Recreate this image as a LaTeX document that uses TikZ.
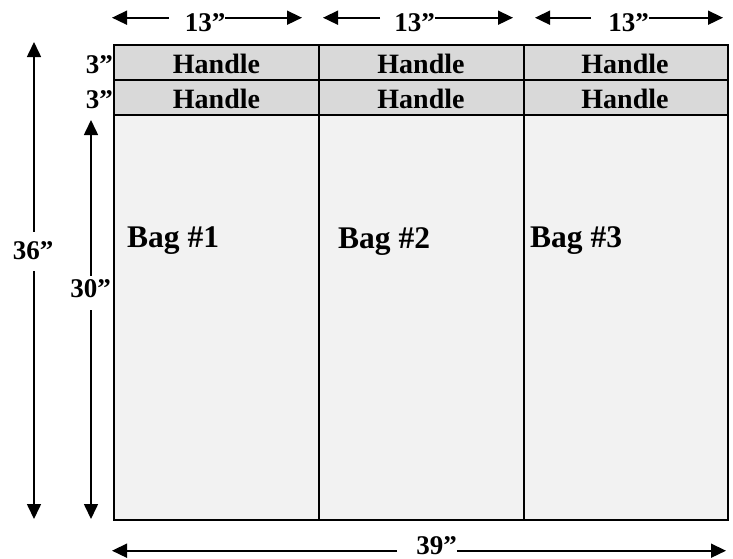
\documentclass[tikz,border=0pt]{standalone}
\usepackage{fontspec}
\setmainfont{Liberation Serif}
\usetikzlibrary{arrows.meta}

\definecolor{handlegray}{HTML}{D9D9D9}
\definecolor{baggray}{HTML}{F2F2F2}
\tikzset{
  dim/.style={line width=1.6pt, -{Triangle[length=15pt,width=14pt]}},
  dimlabel/.style={font=\fontsize{27}{27}\selectfont\bfseries, inner sep=0pt},
  handlelabel/.style={font=\fontsize{28}{28}\selectfont\bfseries, inner sep=0pt},
  baglabel/.style={font=\fontsize{31.5}{31.5}\selectfont\bfseries, inner sep=0pt, anchor=base west}
}

\begin{document}
\begin{tikzpicture}[x=1pt,y=-1pt]
\useasboundingbox (0,0) rectangle (733,558);
% panels
\fill[handlegray] (114,45) rectangle (728,115);
\fill[baggray] (114,115) rectangle (728,520);
\draw[line width=2pt] (114,80) -- (728,80) (114,115) -- (728,115)
      (319,45) -- (319,520) (524,45) -- (524,520);
\draw[line width=2.6pt] (114,45) rectangle (728,520);
% handles
\node[handlelabel] (h11) at (216.5,63.5) {Handle};
\node[handlelabel] (h12) at (421,63.5) {Handle};
\node[handlelabel] (h13) at (625,63.5) {Handle};
\node[handlelabel] (h21) at (216.5,98.5) {Handle};
\node[handlelabel] (h22) at (421,98.5) {Handle};
\node[handlelabel] (h23) at (625,98.5) {Handle};
% bags
\node[baglabel] (bag1) at (127,247) {Bag \#1};
\node[baglabel] (bag2) at (338,248) {Bag \#2};
\node[baglabel] (bag3) at (530,247) {Bag \#3};
% widths on top
\coordinate (tl1) at (112,17.7); \coordinate (tr1) at (302,17.7);
\coordinate (tl2) at (323,17.7); \coordinate (tr2) at (513,17.7);
\coordinate (tl3) at (535,17.7); \coordinate (tr3) at (723,17.7);
\node[dimlabel] (w1) at (205,22.7) {13”};
\node[dimlabel] (w2) at (414.5,22.7) {13”};
\node[dimlabel] (w3) at (628.5,22.7) {13”};
\draw[dim, shorten <=16pt] (w1.west |- tl1) -- (tl1);
\draw[dim] (w1.east |- tr1) -- (tr1);
\draw[dim, shorten <=14pt] (w2.west |- tl2) -- (tl2);
\draw[dim] (w2.east |- tr2) -- (tr2);
\draw[dim, shorten <=17pt] (w3.west |- tl3) -- (tl3);
\draw[dim] (w3.east |- tr3) -- (tr3);
% heights on the left
\node[dimlabel, anchor=east] (hh1) at (113,64.5) {3”};
\node[dimlabel, anchor=east] (hh2) at (113,99.5) {3”};
\coordinate (tt36) at (34,42); \coordinate (tb36) at (34,519);
\node[dimlabel] (d36) at (33,251) {36”};
\draw[dim, shorten <=10pt] (d36.north -| tt36) -- (tt36);
\draw[dim, shorten <=11pt] (d36.south -| tb36) -- (tb36);
\coordinate (tt30) at (91,120); \coordinate (tb30) at (91,519);
\node[dimlabel] (d30) at (90.5,289) {30”};
\draw[dim, shorten <=4pt] (d30.north -| tt30) -- (tt30);
\draw[dim, shorten <=12pt] (d30.south -| tb30) -- (tb30);
% total width
\coordinate (tl39) at (112,550.7); \coordinate (tr39) at (726,550.7);
\node[dimlabel] (w39) at (436.5,545.5) {39”};
\draw[dim, shorten <=19pt] (w39.west |- tl39) -- (tl39);
\draw[dim] (w39.east |- tr39) -- (tr39);
\end{tikzpicture}
\end{document}
